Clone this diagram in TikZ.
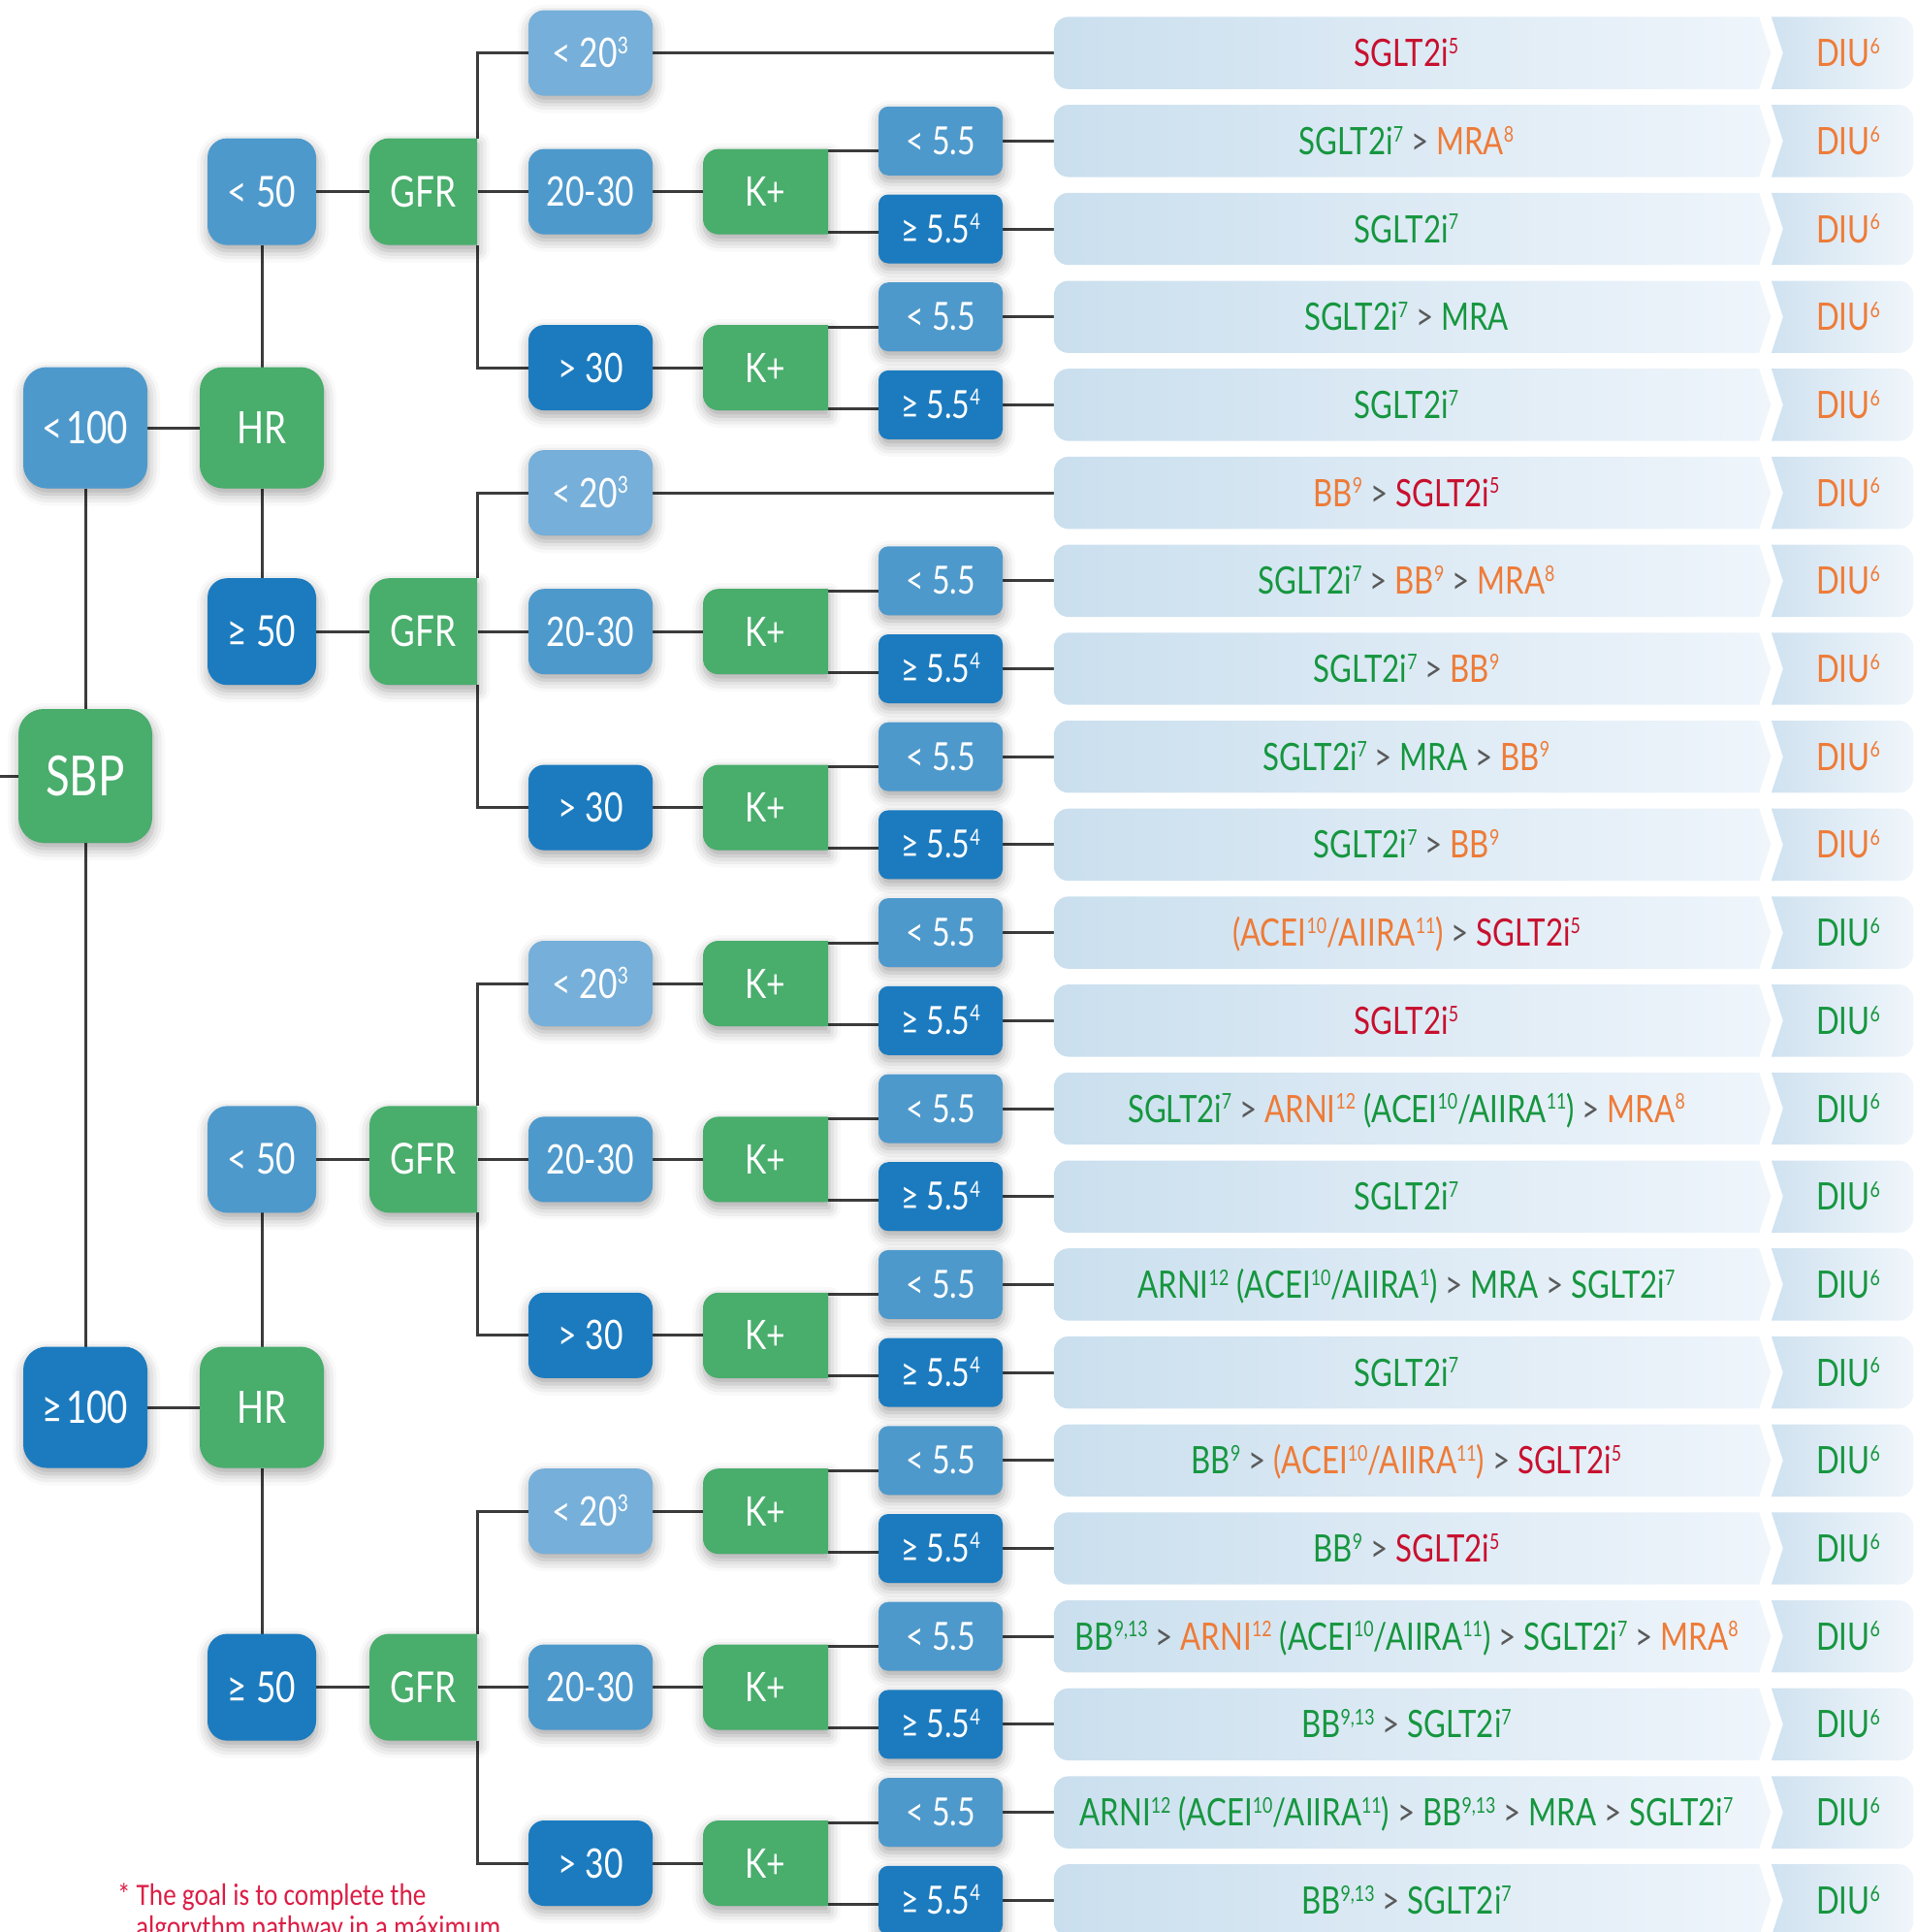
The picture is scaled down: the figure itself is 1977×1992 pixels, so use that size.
\documentclass[tikz,border=0pt]{standalone}
\usepackage{fontspec}
\setmainfont{Lato}[FakeStretch=0.8]
\newfontfamily\notefont{Carlito}[FakeStretch=0.85]
\usetikzlibrary{shadows.blur}
\pgfdeclarelayer{back}
\pgfdeclarelayer{fills}
\pgfsetlayers{back,fills,main}
\definecolor{cgreen}{HTML}{49AD6C}
\definecolor{cblue}{HTML}{4E99CC}
\definecolor{cdark}{HTML}{1C7BBF}
\definecolor{clight}{HTML}{76AFD9}
\definecolor{barl}{HTML}{CADFEE}
\definecolor{barr}{HTML}{EFF5FB}
\definecolor{diul}{HTML}{D0E2F0}
\definecolor{diur}{HTML}{F0F6FB}
\definecolor{tred}{HTML}{C8102E}
\definecolor{tgreen}{HTML}{16963F}
\definecolor{torange}{HTML}{EE7B37}
\definecolor{tgray}{HTML}{5A5A5A}
\definecolor{cline}{HTML}{3C3C3C}
\definecolor{cnote}{HTML}{DC1E46}
\makeatletter
\newcommand\upx[1]{\raisebox{0.34em}{\fontsize{\strip@pt\dimexpr 0.57\dimexpr\f@size pt\relax\relax}{1}\selectfont #1}}
\makeatother
\newcommand\cR[1]{\textcolor{tred}{#1}}
\newcommand\cG[1]{\textcolor{tgreen}{#1}}
\newcommand\cO[1]{\textcolor{torange}{#1}}
\newcommand\gtx{\textcolor{tgray}{>}}
% green box with rounded left corners and square right corners: centre x, centre y, half width, half height, radius
\newcommand\halfround[5]{\fill[cgreen, shad] (#1+#3,#2-#4) [rounded corners=#5] -- (#1-#3,#2-#4) -- (#1-#3,#2+#4) [sharp corners] -- (#1+#3,#2+#4) -- cycle;}
\newcommand\resrow[4]{%
  \node[bartxt] (bar#1) at (1450.5,#2) {#3};
  \node[diutxt, text=#4] (diu#1) at (1900,#2) {\hspace*{12pt}DIU\upx{6}};
  \begin{pgfonlayer}{fills}
  \path[left color=barl, right color=barr] (bar#1.north east) -- ([xshift=12pt]bar#1.east) -- (bar#1.south east) [rounded corners=15pt] -- (bar#1.south west) -- (bar#1.north west) [sharp corners] -- cycle;
  \path[left color=diul, right color=diur] (diu#1.north west) -- ([xshift=12pt]diu#1.west) -- (diu#1.south west) [rounded corners=15pt] -- (diu#1.south east) -- (diu#1.north east) [sharp corners] -- cycle;
  \end{pgfonlayer}}
\tikzset{
  shad/.style={blur shadow={shadow xshift=1pt, shadow yshift=-6pt, shadow blur radius=12pt, shadow opacity=35}},
  nd/.style={inner sep=0pt, outer sep=0pt, text=white, align=center},
  sbpbox/.style={nd, shad, fill=cgreen, minimum width=138pt, minimum height=138pt, rounded corners=26pt, font=\fontsize{57}{60}\selectfont, text height=41pt, text depth=0pt},
  bigbox/.style={nd, shad, minimum width=128pt, minimum height=125pt, rounded corners=24pt, font=\fontsize{46}{50}\selectfont, text height=33pt, text depth=0pt},
  midbox/.style={nd, minimum width=112pt, minimum height=110pt, font=\fontsize{44}{48}\selectfont, text height=31pt, text depth=0pt},
  thbox/.style={nd, minimum width=128pt, minimum height=88pt, font=\fontsize{42}{46}\selectfont, text height=30pt, text depth=0pt},
  kbox/.style={nd, shad, minimum width=128pt, minimum height=71pt, rounded corners=10pt, font=\fontsize{40}{44}\selectfont, text height=28pt, text depth=0pt},
  bartxt/.style={inner sep=0pt, minimum width=727pt, minimum height=74pt, font=\fontsize{39}{44}\selectfont, text height=28pt, text depth=0pt},
  diutxt/.style={inner sep=0pt, minimum width=146pt, minimum height=74pt, font=\fontsize{39}{44}\selectfont, text height=28pt, text depth=0pt},
  conn/.style={draw=cline, line width=3pt},
  notetxt/.style={anchor=base west, inner sep=0pt, font=\notefont\fontsize{32}{36}\selectfont, text=cnote}
}
\begin{document}
\begin{tikzpicture}[x=1pt,y=-1pt]
\useasboundingbox (0,0) rectangle (1977,1992);
% first columns
\coordinate (lft) at (0,800);
\node[sbpbox] (sbp) at (88,800) {SBP};
\node[bigbox, fill=cblue] (lt100) at (88,441) {<\hspace{3pt}100};
\node[bigbox, fill=cdark] (ge100) at (88,1451) {≥\hspace{3pt}100};
\node[bigbox, fill=cgreen] (hr1) at (270,441) {HR};
\node[bigbox, fill=cgreen] (hr2) at (270,1451) {HR};
% HR branches, GFR and thresholds
\foreach \i/\a/\b/\c/\sc/\sg in {1/54.6/197.6/379.1/cblue/<, 2/508.1/651.2/832.6/cdark/≥, 3/1014.0/1195.4/1376.8/cblue/<, 4/1558.2/1739.6/1921.0/cdark/≥}{
  \node[midbox, shad, rounded corners=20pt, fill=\sc] (s\i) at (270,\b) {\sg\ 50};
  \halfround{436.5}{\b}{55.5}{55}{20pt}
  \node[midbox] (g\i) at (436.5,\b) {GFR};
  \node[thbox, shad, rounded corners=16pt, fill=clight] (ta\i) at (609,\a) {< 20\upx{3}};
  \node[thbox, shad, rounded corners=16pt, fill=cblue] (tb\i) at (609,\b) {20-30};
  \node[thbox, shad, rounded corners=16pt, fill=cdark] (tc\i) at (609,\c) {> 30};
}
% K+ groups
\foreach \n/\t/\ra/\rb in {1/197.6/145.3/236.0, 2/379.1/326.7/417.4, 3/651.2/598.8/689.5, 4/832.6/780.2/870.9, 5/1014.0/961.6/1052.3, 6/1195.4/1143.0/1233.7, 7/1376.8/1324.4/1415.1, 8/1558.2/1505.8/1596.5, 9/1739.6/1687.2/1777.9, 10/1921.0/1868.6/1959.3}{
  \halfround{789.5}{\t}{64.5}{44}{16pt}
  \node[thbox] (kp\n) at (789.5,\t) {K+};
  \node[kbox, fill=cblue] (kl\n) at (970,\ra) {< 5.5};
  \node[kbox, fill=cdark] (kg\n) at (970,\rb) {≥ 5.5\upx{4}};
}
% result rows
\resrow{1}{54.6}{\cR{SGLT2i\upx{5}}}{torange}
\resrow{2}{145.3}{\cG{SGLT2i\upx{7}} \gtx{} \cO{MRA\upx{8}}}{torange}
\resrow{3}{236.0}{\cG{SGLT2i\upx{7}}}{torange}
\resrow{4}{326.7}{\cG{SGLT2i\upx{7}} \gtx{} \cG{MRA}}{torange}
\resrow{5}{417.4}{\cG{SGLT2i\upx{7}}}{torange}
\resrow{6}{508.1}{\cO{BB\upx{9}} \gtx{} \cR{SGLT2i\upx{5}}}{torange}
\resrow{7}{598.8}{\cG{SGLT2i\upx{7}} \gtx{} \cO{BB\upx{9}} \gtx{} \cO{MRA\upx{8}}}{torange}
\resrow{8}{689.5}{\cG{SGLT2i\upx{7}} \gtx{} \cO{BB\upx{9}}}{torange}
\resrow{9}{780.2}{\cG{SGLT2i\upx{7}} \gtx{} \cG{MRA} \gtx{} \cO{BB\upx{9}}}{torange}
\resrow{10}{870.9}{\cG{SGLT2i\upx{7}} \gtx{} \cO{BB\upx{9}}}{torange}
\resrow{11}{961.6}{\cO{(ACEI\upx{10}/AIIRA\upx{11})} \gtx{} \cR{SGLT2i\upx{5}}}{tgreen}
\resrow{12}{1052.3}{\cR{SGLT2i\upx{5}}}{tgreen}
\resrow{13}{1143.0}{\cG{SGLT2i\upx{7}} \gtx{} \cO{ARNI\upx{12}} \cG{(ACEI\upx{10}/AIIRA\upx{11})} \gtx{} \cO{MRA\upx{8}}}{tgreen}
\resrow{14}{1233.7}{\cG{SGLT2i\upx{7}}}{tgreen}
\resrow{15}{1324.4}{\cG{ARNI\upx{12} (ACEI\upx{10}/AIIRA\upx{1})} \gtx{} \cG{MRA} \gtx{} \cG{SGLT2i\upx{7}}}{tgreen}
\resrow{16}{1415.1}{\cG{SGLT2i\upx{7}}}{tgreen}
\resrow{17}{1505.8}{\cG{BB\upx{9}} \gtx{} \cO{(ACEI\upx{10}/AIIRA\upx{11})} \gtx{} \cR{SGLT2i\upx{5}}}{tgreen}
\resrow{18}{1596.5}{\cG{BB\upx{9}} \gtx{} \cR{SGLT2i\upx{5}}}{tgreen}
\resrow{19}{1687.2}{\cG{BB\upx{9,13}} \gtx{} \cO{ARNI\upx{12}} \cG{(ACEI\upx{10}/AIIRA\upx{11})} \gtx{} \cG{SGLT2i\upx{7}} \gtx{} \cO{MRA\upx{8}}}{tgreen}
\resrow{20}{1777.9}{\cG{BB\upx{9,13}} \gtx{} \cG{SGLT2i\upx{7}}}{tgreen}
\resrow{21}{1868.6}{\cG{ARNI\upx{12} (ACEI\upx{10}/AIIRA\upx{11})} \gtx{} \cG{BB\upx{9,13}} \gtx{} \cG{MRA} \gtx{} \cG{SGLT2i\upx{7}}}{tgreen}
\resrow{22}{1959.3}{\cG{BB\upx{9,13}} \gtx{} \cG{SGLT2i\upx{7}}}{tgreen}
% footnote
\node[notetxt] (note1) at (121,1964) {*\hspace{6pt}The goal is to complete the};
\node[notetxt] (note2) at (140,1997) {algorythm pathway in a máximum};
% connectors
\begin{pgfonlayer}{back}
\draw[conn] (lft) -- (sbp.west);
\draw[conn] (lt100.south) -- (sbp.north);
\draw[conn] (sbp.south) -- (ge100.north);
\draw[conn] (lt100.east) -- (hr1.west);
\draw[conn] (ge100.east) -- (hr2.west);
\draw[conn] (s1.south) -- (hr1.north);
\draw[conn] (hr1.south) -- (s2.north);
\draw[conn] (s3.south) -- (hr2.north);
\draw[conn] (hr2.south) -- (s4.north);
\foreach \i in {1,...,4}{
  \draw[conn] (s\i.east) -- (g\i.west);
  \draw[conn] (g\i.north east) |- (ta\i.west);
  \draw[conn] (g\i.east) -- (tb\i.west);
  \draw[conn] (g\i.south east) |- (tc\i.west);
}
\draw[conn] (ta1.east) -- (bar1.west);
\draw[conn] (ta2.east) -- (bar6.west);
\foreach \s/\n in {tb1/1, tc1/2, tb2/3, tc2/4, ta3/5, tb3/6, tc3/7, ta4/8, tb4/9, tc4/10}{
  \draw[conn] (\s.east) -- (kp\n.west);
}
\foreach \n/\u/\v in {1/2/3, 2/4/5, 3/7/8, 4/9/10, 5/11/12, 6/13/14, 7/15/16, 8/17/18, 9/19/20, 10/21/22}{
  \draw[conn] ([yshift=-2pt]kp\n.north east) -- ([yshift=-2pt]kp\n.north east -| kl\n.west);
  \draw[conn] ([yshift=2pt]kp\n.south east) -- ([yshift=2pt]kp\n.south east -| kg\n.west);
  \draw[conn] (kl\n.east) -- (bar\u.west);
  \draw[conn] (kg\n.east) -- (bar\v.west);
}
\end{pgfonlayer}
\end{tikzpicture}
\end{document}
